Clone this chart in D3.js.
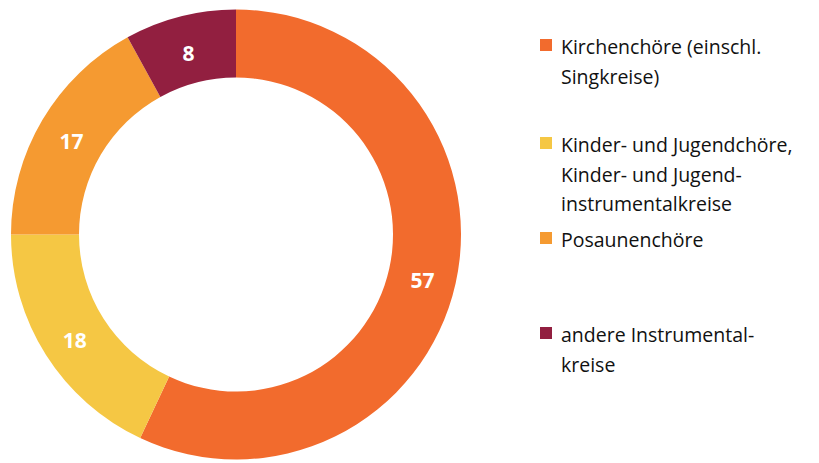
<!DOCTYPE html>
<html><head><meta charset="utf-8">
<script src="https://cdn.jsdelivr.net/npm/d3@7"></script>
<style>body{margin:0;background:#fff}</style>
</head><body>
<svg id="c" width="819" height="463"></svg>
<script>
const categories = ["Kirchenchöre (einschl. Singkreise)", "Kinder- und Jugendchöre, Kinder- und Jugendinstrumentalkreise", "Posaunenchöre", "andere Instrumentalkreise"];
const values = [57, 18, 17, 8];
const colors = ["#F26B2D", "#F5C744", "#F59A31", "#921F40"];
const legendLines = [
  ["Kirchenchöre (einschl.", "Singkreise)"],
  ["Kinder- und Jugendchöre,", "Kinder- und Jugend-", "instrumentalkreise"],
  ["Posaunenchöre"],
  ["andere Instrumental-", "kreise"]
];
const legendTops = [39, 137, 232, 327];

const svg = d3.select("#c");
const cx = 236, cy = 234.5, rOut = 225, rIn = 157;
const pie = d3.pie().sort(null).value(d => d)(values);
const arc = d3.arc().innerRadius(rIn).outerRadius(rOut);
const g = svg.append("g").attr("transform", `translate(${cx},${cy})`);
g.selectAll("path").data(pie).join("path")
  .attr("d", arc).attr("fill", (d, i) => colors[i]);
g.selectAll("text").data(pie).join("text")
  .attr("transform", d => { const [x, y] = arc.centroid(d); return `translate(${x},${y + 4})`; })
  .attr("text-anchor", "middle").attr("dy", "0.35em")
  .attr("font-family", "Open Sans").attr("font-weight", "bold").attr("font-size", 21)
  .attr("fill", "#fff").text(d => d.data);

const lg = svg.append("g");
legendLines.forEach((lines, i) => {
  const top = legendTops[i];
  lg.append("rect").attr("x", 540).attr("y", top).attr("width", 12).attr("height", 12).attr("fill", colors[i]);
  const t = lg.append("text").attr("x", 561).attr("y", top + 15)
    .attr("font-family", "Open Sans").attr("font-size", 19.5).attr("fill", "#111");
  lines.forEach((l, j) => t.append("tspan").attr("x", 561).attr("dy", j === 0 ? 0 : 29.5).text(l));
});
</script>
</body></html>
